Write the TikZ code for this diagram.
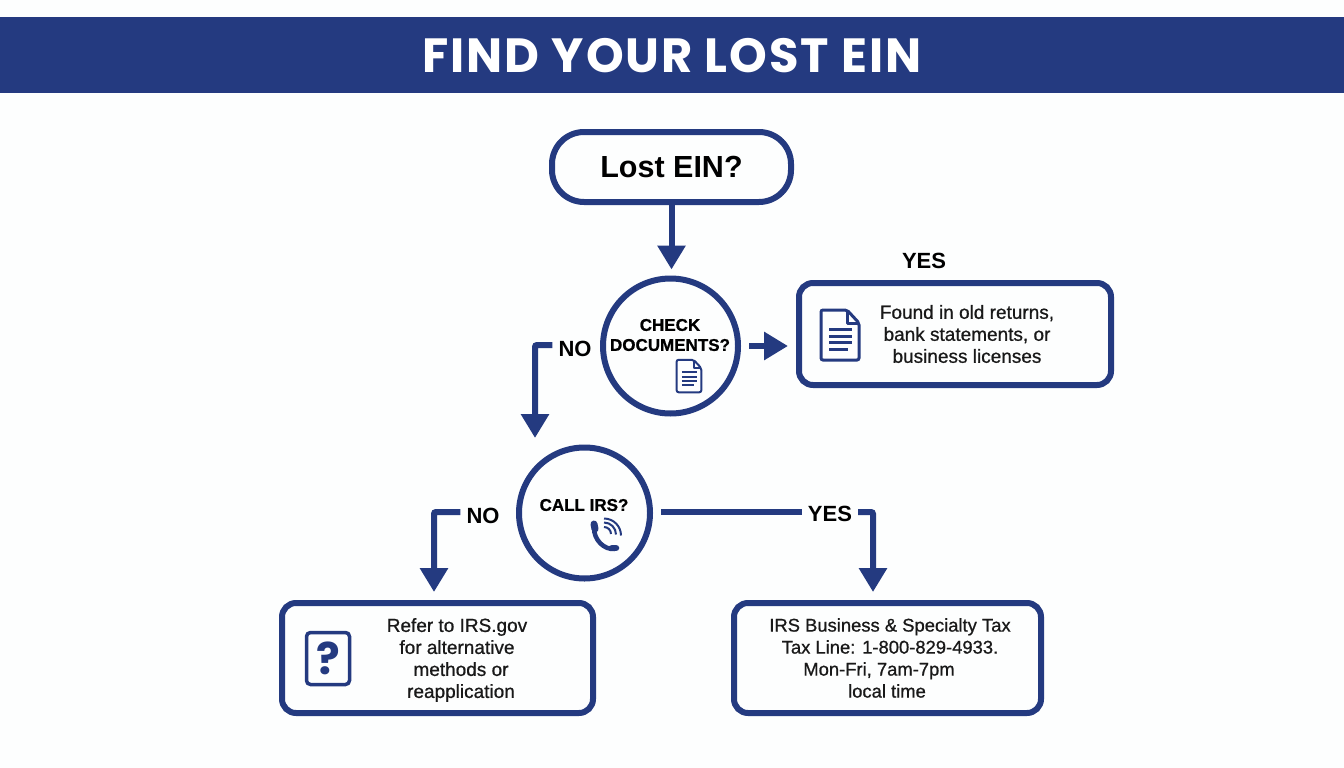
\documentclass[tikz,border=0pt]{standalone}
\usepackage{fontspec}
\setmainfont{Liberation Sans}
\newfontfamily\bodyfont[FakeBold=0.8]{Liberation Sans}
\newfontfamily\titlefont[LetterSpace=4]{Poppins}
\newfontfamily\markfont{Poppins}
\usetikzlibrary{arrows.meta}
\definecolor{navy}{HTML}{243A80}
\definecolor{paper}{HTML}{FDFEFE}
\tikzset{
    flow/.style = {draw = navy, line width = 6pt, rounded corners = 2pt, -{Triangle[length = 24pt, width = 27pt]}},
    plainflow/.style = {draw = navy, line width = 6pt},
    question/.style = {circle, draw = navy, line width = 6pt, fill = paper, minimum size = 135pt, inner sep = 0pt},
    answer/.style = {rectangle, rounded corners = 14pt, draw = navy, line width = 6pt, fill = paper, inner sep = 0pt},
    answertext/.style = {align = center, font = \bodyfont\fontsize{19}{22}\selectfont, text = black!90},
    asktext/.style = {align = center, font = \bodyfont\bfseries\fontsize{17}{20}\selectfont},
    branch/.style = {font = \bfseries\fontsize{22}{24}\selectfont, inner sep = 6pt},
    docicon/.pic = {
        \draw[navy, rounded corners = 2pt, fill = paper] (-19, -25) -- (7, -25) -- (19, -12) -- (19, 25) -- (-19, 25) -- cycle;
        \draw[navy, line join = round] (7, -25) -- (7, -12) -- (19, -12);
        \draw[navy] (-11, -5.5) -- (12, -5.5);
        \draw[navy] (-11, 1) -- (12, 1);
        \draw[navy] (-11, 7.5) -- (12, 7.5);
        \draw[navy] (-11, 14) -- (8, 14);
    }
}
\begin{document}
\begin{tikzpicture}[x = 1pt, y = -1pt]

    \useasboundingbox (0, 0) rectangle (1344, 768);
    \fill[paper] (0, 0) rectangle (1344, 768);

    % banner
    \fill[navy] (0, 17) rectangle (1344, 93);
    \node (title) at (672, 55.5) [text = white, font = \titlefont\bfseries\fontsize{48}{52}\selectfont] {FIND YOUR LOST EIN};

    % questions
    \node (start) at (671.5, 167) [answer, rounded corners = 32pt, minimum width = 239pt, minimum height = 70pt, font = \bfseries\fontsize{30.5}{34}\selectfont] {Lost EIN?};
    \node (check) at (670.5, 346) [question] {};
    \node (checktext) at (670, 335) [asktext] {CHECK\\DOCUMENTS?};
    \node (call) at (584.5, 513) [question, minimum size = 131pt] {};
    \node (calltext) at (584, 505) [asktext] {CALL IRS?};

    % answers
    \node (found) at (955, 334) [answer, minimum width = 312pt, minimum height = 102pt] {};
    \node (foundtext) at (967, 334) [answertext] {Found in old returns,\\bank statements, or\\business licenses};
    \node (refer) at (437.5, 658) [answer, minimum width = 311pt, minimum height = 110pt] {};
    \node (refertext) at (457, 660) [answertext] {Refer to IRS.gov\\for alternative\\\hspace*{8pt}methods or\\\hspace*{8pt}reapplication};
    \node (line) at (887.5, 658) [answer, minimum width = 307pt, minimum height = 110pt] {};
    \node (linetext) at (890, 658) [answertext, font = \bodyfont\fontsize{18.4}{22}\selectfont] {IRS Business \& Specialty Tax\\Tax Line: 1-800-829-4933.\\\hspace*{-22pt}Mon-Fri, 7am-7pm\\\hspace*{-6pt}local time};

    % branch labels
    \node (yes1) at (924, 261) [branch] {YES};
    \node (no1) at (575, 349) [branch] {NO};
    \node (no2) at (483, 516) [branch] {NO};
    \node (yes2) at (830, 514) [branch] {YES};

    \coordinate (no1turn) at (535, 345);
    \coordinate (no1end) at (535, 438);
    \coordinate (no2turn) at (434, 512);
    \coordinate (yes2turn) at (873, 512);

    % connectors
    \draw[flow, shorten >= 6pt] (start) -- (start |- check.north);
    \draw[flow, shorten <= 8pt, shorten >= 8pt] (check.east) -- (check.east -| found.west);
    \draw[flow] ([yshift = 4pt]no1.west) -- (no1turn) -- (no1end);
    \draw[flow, shorten >= 8pt] ([yshift = 4pt]no2.west) -- (no2turn) -- (no2turn |- refer.north);
    \draw[plainflow, shorten >= 8pt] ([yshift = 2pt]yes2.west) -- ([yshift = 2pt]yes2.west -| call.east);
    \draw[flow, shorten >= 8pt] ([yshift = 2pt]yes2.east) -- (yes2turn) -- (yes2turn |- line.north);

    % icons
    \pic[line width = 2pt, scale = 0.65] at (689, 376) {docicon};
    \pic[line width = 3pt] at (840, 335) {docicon};

    \node (qbox) at (328, 658.5) [draw = navy, line width = 3.5pt, rounded corners = 4pt, minimum width = 43pt, minimum height = 52pt, inner sep = 0pt, text = navy, font = \markfont\bfseries\fontsize{44}{48}\selectfont] {?};

    % phone
    \draw[navy, line width = 4.5pt] (594, 528) .. controls (594, 540) and (604, 550) .. (615, 549);
    \draw[navy, line width = 7pt, line cap = round] (594, 524) -- (595, 529);
    \draw[navy, line width = 6.5pt, line cap = round] (612, 548) -- (616, 548);
    \draw[navy, line width = 2pt] (604, 527) arc[start angle = 90, end angle = 0, radius = 7pt];
    \draw[navy, line width = 2pt] (604, 522.5) arc[start angle = 90, end angle = 0, radius = 12pt];
    \draw[navy, line width = 2pt] (604, 518.5) arc[start angle = 90, end angle = 0, radius = 17pt];

\end{tikzpicture}
\end{document}
